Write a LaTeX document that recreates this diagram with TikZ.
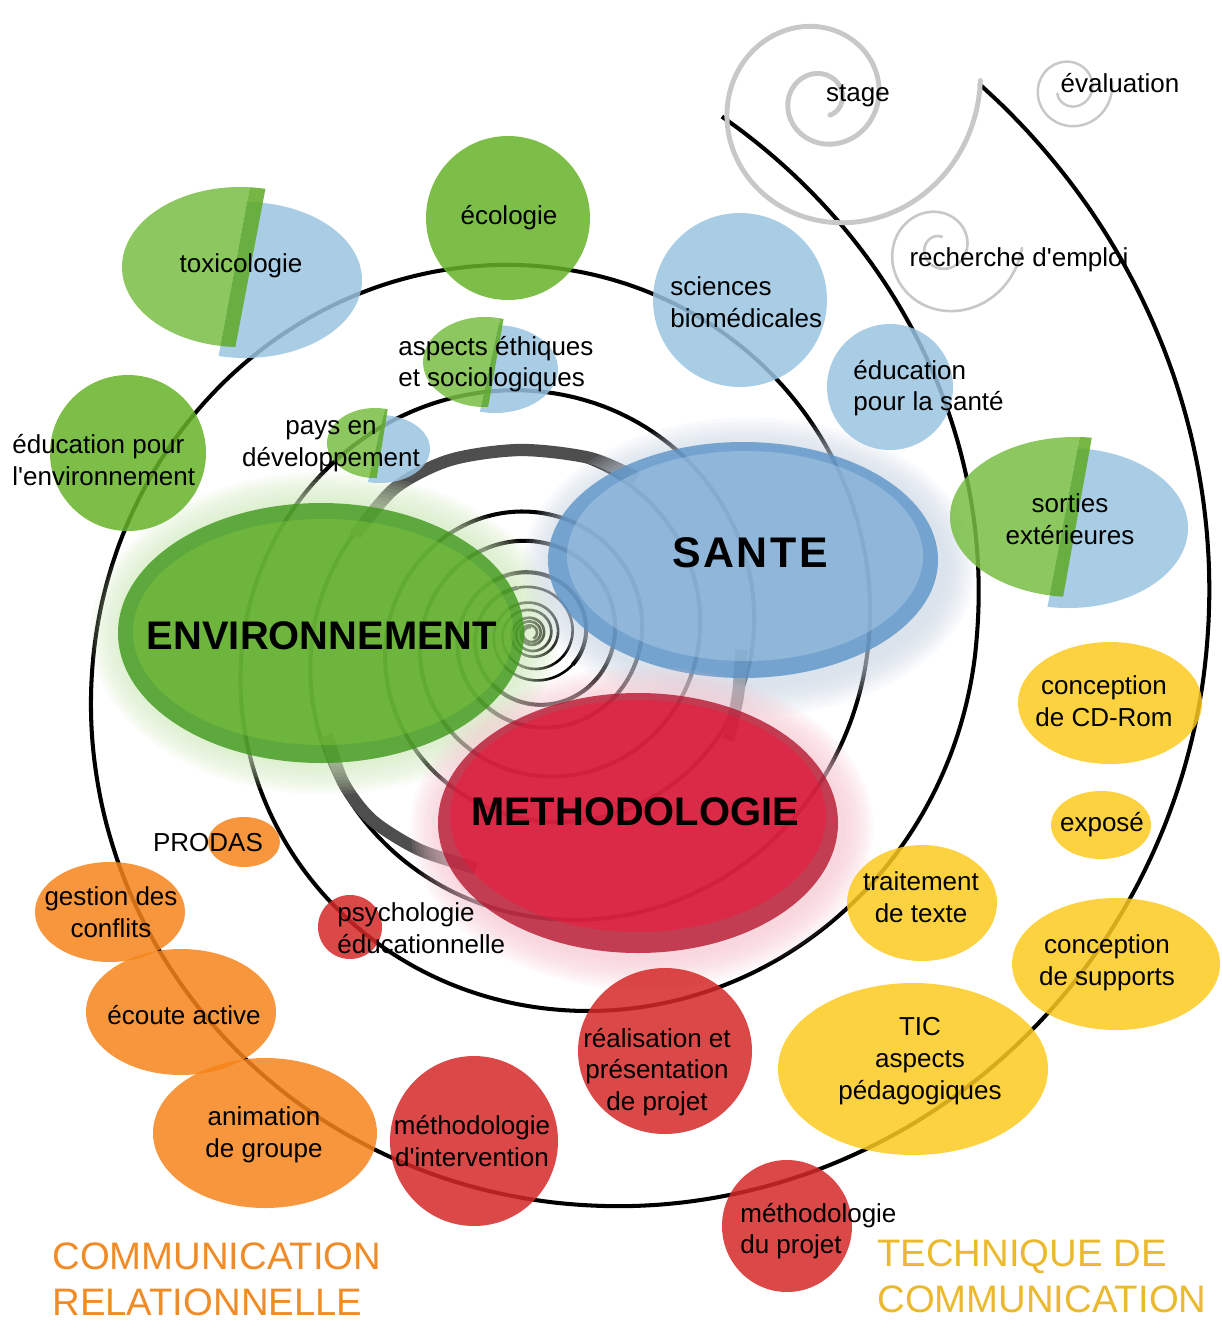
\documentclass[tikz,border=0pt]{standalone}
\usepackage{fontspec}
\setmainfont{Liberation Sans}[Ligatures=TeXOff]
\newcommand\lblf{\fontsize{14.8}{18}\selectfont}
\newcommand\bigf{\fontsize{22.7}{26}\selectfont\bfseries}
\newcommand\titf{\fontsize{21.8}{26.4}\selectfont}
\definecolor{spgrey}{RGB}{200,200,200}
\definecolor{arcgrey}{RGB}{78,78,78}
\definecolor{gSat}{RGB}{102,179,40}
\definecolor{gLight}{RGB}{120,190,67}
\definecolor{gStrip}{RGB}{94,169,35}
\definecolor{bSat}{RGB}{155,196,226}
\definecolor{oSat}{RGB}{246,132,26}
\definecolor{rSat}{RGB}{212,40,40}
\definecolor{ySat}{RGB}{252,202,32}
\definecolor{gRim}{RGB}{62,152,24}
\definecolor{gIn}{RGB}{128,196,60}
\definecolor{bRim}{RGB}{92,148,200}
\definecolor{bIn}{RGB}{176,206,230}
\definecolor{rRim}{RGB}{182,22,48}
\definecolor{rIn}{RGB}{248,20,58}
\definecolor{gHalo}{RGB}{205,232,185}
\definecolor{bHalo}{RGB}{200,212,226}
\definecolor{rHalo}{RGB}{245,195,205}
\definecolor{orTitle}{RGB}{240,140,40}
\definecolor{yeTitle}{RGB}{235,185,45}
\begin{document}
\begin{tikzpicture}[x=0.02cm,y=-0.02cm,
  declare function={
    ra(\t)=646*exp(0.0019199*\t);
    rb(\t)=426*exp(0.0019199*\t)*(1+0.16*(max(\t,0)/73)^2);
    pxa(\t)=530+0.045*ra(\t)+ra(\t)*cos(\t);
    pya(\t)=633+0.048*ra(\t)-ra(\t)*sin(\t);
    pxb(\t)=530+0.045*rb(\t)+rb(\t)*cos(\t);
    pyb(\t)=633+0.048*rb(\t)-rb(\t)*sin(\t);
    re(\t)=42+0.055*\t;
  },
  spir/.style={line width=2.3pt, black, line join=round},
  spirin/.style={line width=1.5pt, black, line join=round},
  greysp/.style={line width=2.8pt, color=spgrey, line cap=round},
  thinsp/.style={line width=1.5pt, color=spgrey, line cap=round},
  thickarc/.style={line width=7pt, color=arcgrey},
  sat/.style={fill opacity=0.85},
  lbl/.style={font=\lblf, align=center, text=black, inner sep=0pt},
  lbll/.style={font=\lblf, align=left, text=black, inner sep=0pt, anchor=west},
  big/.style={font=\bigf, text=black, inner sep=0pt},
  rim/.style={fill opacity=0.8},
  inner/.style={fill opacity=0.45},
  halo/.style={fill opacity=0.11}
]
\useasboundingbox (0,0) rectangle (1221,1321);

% ---------- black double spiral ----------
\draw[spirin] plot[domain=-2437:-1333, samples=420] ({pxa(\x)},{pya(\x)});
\draw[spir] plot[smooth, domain=-1333:54.5, samples=520] ({pxa(\x)},{pya(\x)});
\draw[spirin] plot[domain=-2220:-1116, samples=420] ({pxb(\x)},{pyb(\x)});
\draw[spir] plot[smooth, domain=-1116:73, samples=520] ({pxb(\x)},{pyb(\x)});

% ---------- grey spirals ----------
\draw[greysp] plot[smooth, domain=-62:727, samples=220]
  ({822+17*exp(0.002845*(\x+62))*cos(\x)},{100-17*exp(0.002845*(\x+62))*sin(\x)});
\draw[thinsp] plot[smooth, domain=-640:0, samples=200]
  ({940+82*exp(0.003089*\x)*cos(\x)},{248-82*exp(0.003089*\x)*sin(\x)});
\draw[line width=1.4pt, spgrey, line cap=round] plot[smooth, domain=-520:10, samples=180]
  ({1070+re(\x)*cos(\x)},{89-re(\x)*sin(\x)});

% ---------- thick grey arcs ----------
\draw[thickarc] plot[smooth] coordinates {(355,535) (395,488) (450,460) (520,450) (590,458) (637,478)};
\draw[thickarc] plot[smooth] coordinates {(741,650) (738,695) (728,740)};
\draw[thickarc] plot[smooth] coordinates {(327,735) (343,782) (372,820) (420,850) (476,868)};

% ---------- big ellipses ----------
\foreach \k in {1,...,9}
  \fill[gHalo, halo] (325,633) ellipse [x radius=203+3.5*\k, y radius=130+3.5*\k];
\fill[gRim, rim] (321,633) ellipse [x radius=203, y radius=130];
\fill[gIn, inner] (323,632) ellipse [x radius=190, y radius=113];

\foreach \k in {1,...,9}
  \fill[bHalo, halo] (749,567) ellipse [x radius=195+3.5*\k, y radius=118+3.5*\k];
\fill[bRim, rim] (743,560) ellipse [x radius=195, y radius=118];
\fill[bIn, inner] (745,556) ellipse [x radius=178, y radius=105];

\foreach \k in {1,...,9}
  \fill[rHalo, halo] (642,828) ellipse [x radius=200+3.5*\k, y radius=130+3.5*\k];
\fill[rRim, rim] (638,823) ellipse [x radius=200, y radius=130];
\fill[rIn, inner] (638,816) ellipse [x radius=188, y radius=116];

% ---------- two-colour satellites ----------
% toxicologie
\begin{scope}
  \clip (253,170) -- (216,370) -- (400,370) -- (400,170) -- cycle;
  \fill[bSat, sat] (245,280) ellipse [x radius=117, y radius=78];
\end{scope}
\begin{scope}
  \clip (253,170) -- (216,370) -- (100,370) -- (100,170) -- cycle;
  \fill[gLight, sat] (240,267) ellipse [x radius=118, y radius=80];
\end{scope}
\begin{scope}
  \clip (253,170) -- (216,370) -- (231,370) -- (269,170) -- cycle;
  \fill[gStrip, sat] (240,267) ellipse [x radius=118, y radius=80];
\end{scope}
% aspects ethiques
\begin{scope}
  \clip (503,305) -- (477,425) -- (600,425) -- (600,305) -- cycle;
  \fill[bSat, sat] (495,369) ellipse [x radius=63, y radius=44];
\end{scope}
\begin{scope}
  \clip (503,305) -- (477,425) -- (400,425) -- (400,305) -- cycle;
  \fill[gLight, sat] (485,362) ellipse [x radius=62, y radius=45];
\end{scope}
\begin{scope}
  \clip (503,305) -- (477,425) -- (485,425) -- (506,305) -- cycle;
  \fill[gStrip, sat] (485,362) ellipse [x radius=62, y radius=45];
\end{scope}
% pays en developpement
\begin{scope}
  \clip (388,395) -- (365,495) -- (450,495) -- (450,395) -- cycle;
  \fill[bSat, sat] (380,449) ellipse [x radius=50, y radius=34];
\end{scope}
\begin{scope}
  \clip (388,395) -- (365,495) -- (300,495) -- (300,395) -- cycle;
  \fill[gLight, sat] (375,443) ellipse [x radius=48, y radius=35];
\end{scope}
\begin{scope}
  \clip (388,395) -- (365,495) -- (374,495) -- (390,395) -- cycle;
  \fill[gStrip, sat] (375,443) ellipse [x radius=48, y radius=35];
\end{scope}
% sorties exterieures
\begin{scope}
  \clip (1083,420) -- (1044,625) -- (1221,625) -- (1221,420) -- cycle;
  \fill[bSat, sat] (1068,528) ellipse [x radius=120, y radius=80];
\end{scope}
\begin{scope}
  \clip (1083,420) -- (1044,625) -- (900,625) -- (900,420) -- cycle;
  \fill[gLight, sat] (1075,517) ellipse [x radius=125, y radius=80];
\end{scope}
\begin{scope}
  \clip (1083,420) -- (1044,625) -- (1058,625) -- (1095,420) -- cycle;
  \fill[gStrip, sat] (1075,517) ellipse [x radius=125, y radius=80];
\end{scope}

% ---------- plain satellites ----------
\fill[gSat, sat] (508,218) circle [radius=82];
\fill[gSat, sat] (128,453) circle [radius=78];
\fill[bSat, sat] (740,300) circle [radius=87];
\fill[bSat, sat] (890,387) circle [radius=63];
\fill[oSat, sat] (244,842) ellipse [x radius=36, y radius=25];
\fill[oSat, sat] (110,912) ellipse [x radius=75, y radius=50];
\fill[oSat, sat] (181,1012) ellipse [x radius=95, y radius=63];
\fill[oSat, sat] (265,1133) ellipse [x radius=112, y radius=75];
\fill[rSat, sat] (350,927) circle [radius=32];
\fill[rSat, sat] (474,1141) ellipse [x radius=84, y radius=85];
\fill[rSat, sat] (665,1051) ellipse [x radius=87, y radius=83];
\fill[rSat, sat] (787,1226) ellipse [x radius=65, y radius=66];
\fill[ySat, sat] (1110,703) ellipse [x radius=92, y radius=61];
\fill[ySat, sat] (1101,825) ellipse [x radius=50, y radius=34];
\fill[ySat, sat] (922,903) ellipse [x radius=75, y radius=58];
\fill[ySat, sat] (1116,964) ellipse [x radius=104, y radius=66];
\fill[ySat, sat] (913,1069) ellipse [x radius=135, y radius=86];

% ---------- labels ----------
\node[big] (env) at (322,636) {ENVIRONNEMENT};
\node[big, font=\fontsize{24.4}{28}\selectfont\bfseries\addfontfeature{LetterSpace=6}] (sante) at (750,553) {SANTE};
\node[big] (meth) at (635,812) {METHODOLOGIE};

\node[lbl] (stage) at (858,96) {stage};
\node[lbl] (evaluation) at (1120,83) {évaluation};
\node[lbl] (recherche) at (1019,260) {recherche d'emploi};
\node[lbl] (toxico) at (241,266) {toxicologie};
\node[lbl] (ecologie) at (509,218) {écologie};
\node[lbll] (scibio) at (670,302) {sciences\\biomédicales};
\node[lbll] (ethiques) at (398,364) {aspects éthiques\\et sociologiques};
\node[lbl] (pays) at (331,446) {pays en\\développement};
\node[lbll] (eduenv) at (12,460) {éducation pour\\l'environnement};
\node[lbll] (edusante) at (853,388) {éducation\\pour la santé};
\node[lbl] (sorties) at (1070,519) {sorties\\extérieures};
\node[lbl] (cdrom) at (1104,701) {conception\\de CD-Rom};
\node[lbl] (expose) at (1102,825) {exposé};
\node[lbl] (traitement) at (921,897) {traitement\\de texte};
\node[lbl] (supports) at (1107,963) {conception\\de supports};
\node[lbl] (tic) at (920,1061) {TIC\\aspects\\pédagogiques};
\node[lbl] (realisation) at (657,1072) {réalisation et\\présentation\\de projet};
\node[lbl] (methint) at (472,1141) {méthodologie\\d'intervention};
\node[lbll] (methprojet) at (740,1231) {méthodologie\\du projet};
\node[lbl] (animation) at (264,1135) {animation\\de groupe};
\node[lbl] (ecoute) at (184,1015) {écoute active};
\node[lbl] (gestion) at (111,912) {gestion des\\conflits};
\node[lbl] (prodas) at (208,843) {PRODAS};
\node[lbll] (psycho) at (337,928) {psychologie\\éducationnelle};

\node[font=\titf, text=orTitle, align=left, anchor=west, inner sep=0pt] (commrel) at (52,1279) {COMMUNICATION\\RELATIONNELLE};
\node[font=\titf, text=yeTitle, align=left, anchor=west, inner sep=0pt] (techcomm) at (877,1276) {TECHNIQUE DE\\COMMUNICATION};
\end{tikzpicture}
\end{document}
